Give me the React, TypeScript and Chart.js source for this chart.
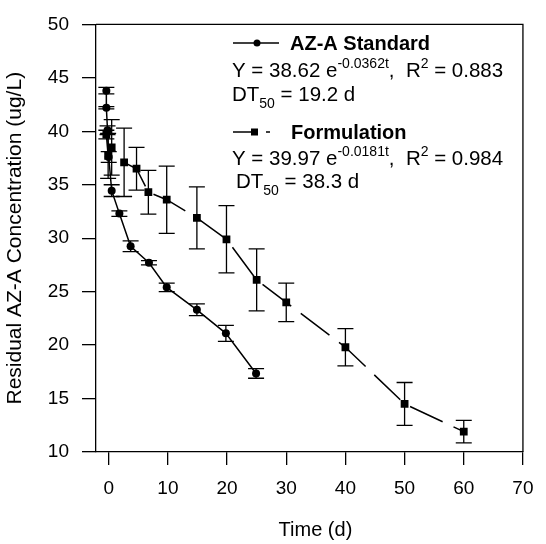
import React, { useEffect, useRef } from "react";
import { Chart, registerables } from "chart.js";

Chart.register(...registerables);

// ---- data ----
const stdTime = [-0.4, -0.4, -0.2, 0, 0.5, 1.8, 3.7, 6.8, 9.8, 14.9, 19.8, 24.9];
const stdConc = [43.8, 42.2, 40.1, 37.6, 34.45, 32.3, 29.25, 27.7, 25.4, 23.3, 21.1, 17.35];
const stdErr = [0.3, 0.1, 0.4, 0.5, 0.55, 0.25, 0.5, 0.2, 0.4, 0.55, 0.75, 0.45];

const formTime = [-0.4, -0.1, 0.5, 2.6, 4.7, 6.7, 9.8, 14.9, 19.9, 25, 30, 40, 50, 60];
const formConc = [39.7, 37.7, 38.5, 37.1, 36.5, 34.3, 33.6, 31.9, 29.9, 26.1, 24.0, 19.8, 14.5, 11.9];
const formErr = [0.4, 2.1, 2.6, 3.2, 2.0, 2.05, 3.15, 2.9, 3.15, 2.9, 1.8, 1.75, 2.0, 1.05];

const xTicks = [0, 10, 20, 30, 40, 50, 60, 70];
const yTicks = [10, 15, 20, 25, 30, 35, 40, 45, 50];

const xTitle = "Time (d)";
const yTitle = "Residual AZ-A Concentration (ug/L)";
const seriesNames = ["AZ-A Standard", "Formulation"];
const eqStd = ["Y = 38.62 e", "-0.0362t", ",  R", "2", " = 0.883"];
const eqForm = ["Y = 39.97 e", "-0.0181t", ",  R", "2", " = 0.984"];
const dtStd = ["DT", "50", " = 19.2 d"];
const dtForm = ["DT", "50", " = 38.3 d"];

const FONT = '"Liberation Sans", Arial, Helvetica, sans-serif';

type Part = [string, "n" | "sup" | "sub"];

function drawRich(ctx: CanvasRenderingContext2D, x: number, cy: number, parts: Part[], size: number) {
  const base = cy + size * 0.36;
  let cx = x;
  ctx.textBaseline = "alphabetic";
  ctx.textAlign = "left";
  for (const [txt, kind] of parts) {
    if (kind === "n") {
      ctx.font = `${size}px ${FONT}`;
      ctx.fillText(txt, cx, base);
    } else if (kind === "sup") {
      ctx.font = `${Math.round(size * 0.68)}px ${FONT}`;
      ctx.fillText(txt, cx, base - size * 0.45);
    } else {
      ctx.font = `${Math.round(size * 0.68)}px ${FONT}`;
      ctx.fillText(txt, cx, base + size * 0.3);
    }
    cx += ctx.measureText(txt).width;
  }
}

export default function App() {
  const ref = useRef<HTMLCanvasElement>(null);

  useEffect(() => {
    if (!ref.current) return;

    const errPlugin = {
      id: "errbars",
      afterDatasetsDraw(chart: any) {
        const { ctx, scales } = chart;
        const xs = scales.x;
        const ys = scales.y;
        const sets: [number[], number[], number[]][] = [
          [stdTime, stdConc, stdErr],
          [formTime, formConc, formErr],
        ];
        ctx.save();
        ctx.strokeStyle = "#000";
        ctx.lineWidth = 1.3;
        for (const [t, c, e] of sets) {
          t.forEach((tv, i) => {
            const px = xs.getPixelForValue(tv);
            const y1 = ys.getPixelForValue(c[i] + e[i]);
            const y2 = ys.getPixelForValue(c[i] - e[i]);
            const hw = 8;
            ctx.beginPath();
            ctx.moveTo(px, y1);
            ctx.lineTo(px, y2);
            ctx.moveTo(px - hw, y1);
            ctx.lineTo(px + hw, y1);
            ctx.moveTo(px - hw, y2);
            ctx.lineTo(px + hw, y2);
            ctx.stroke();
          });
        }
        ctx.restore();
      },
    };

    const boxPlugin = {
      id: "box",
      afterDraw(chart: any) {
        const { ctx, chartArea: a } = chart;
        ctx.save();
        ctx.strokeStyle = "#000";
        ctx.lineWidth = 1.3;
        ctx.beginPath();
        ctx.moveTo(a.left, a.top);
        ctx.lineTo(a.right, a.top);
        ctx.lineTo(a.right, a.bottom);
        ctx.stroke();
        // x-axis title
        ctx.fillStyle = "#000";
        ctx.font = `20px ${FONT}`;
        ctx.textAlign = "center";
        ctx.textBaseline = "middle";
        ctx.fillText(xTitle, (a.left + a.right) / 2 + 6, 530);
        ctx.restore();
      },
    };

    const legendPlugin = {
      id: "customLegend",
      afterDraw(chart: any) {
        const { ctx } = chart;
        ctx.save();
        ctx.fillStyle = "#000";
        ctx.strokeStyle = "#000";
        ctx.lineWidth = 1.5;
        // Standard entry
        ctx.beginPath();
        ctx.moveTo(233, 43);
        ctx.lineTo(279, 43);
        ctx.stroke();
        ctx.beginPath();
        ctx.arc(257, 43, 3.5, 0, Math.PI * 2);
        ctx.fill();
        ctx.font = `bold 20px ${FONT}`;
        ctx.textBaseline = "middle";
        ctx.textAlign = "left";
        ctx.fillText(seriesNames[0], 290, 44);
        drawRich(ctx, 232, 70, [[eqStd[0], "n"], [eqStd[1], "sup"], [eqStd[2], "n"], [eqStd[3], "sup"], [eqStd[4], "n"]], 20.5);
        drawRich(ctx, 232, 94, [[dtStd[0], "n"], [dtStd[1], "sub"], [dtStd[2], "n"]], 20.5);
        // Formulation entry
        ctx.beginPath();
        ctx.moveTo(233, 132);
        ctx.lineTo(258, 132);
        ctx.moveTo(266, 132);
        ctx.lineTo(270, 132);
        ctx.stroke();
        ctx.fillRect(251, 128.5, 7, 7);
        ctx.font = `bold 20px ${FONT}`;
        ctx.textBaseline = "middle";
        ctx.fillText(seriesNames[1], 291, 133);
        drawRich(ctx, 232, 158, [[eqForm[0], "n"], [eqForm[1], "sup"], [eqForm[2], "n"], [eqForm[3], "sup"], [eqForm[4], "n"]], 20.5);
        drawRich(ctx, 236, 181, [[dtForm[0], "n"], [dtForm[1], "sub"], [dtForm[2], "n"]], 20.5);
        ctx.restore();
      },
    };

    const chart = new Chart(ref.current, {
      type: "line",
      data: {
        datasets: [
          {
            label: seriesNames[0],
            data: stdTime.map((t, i) => ({ x: t, y: stdConc[i] })),
            borderColor: "#000",
            backgroundColor: "#000",
            borderWidth: 1.5,
            pointStyle: "circle",
            pointRadius: 4,
            pointBorderWidth: 0,
            tension: 0,
          },
          {
            label: seriesNames[1],
            data: formTime.map((t, i) => ({ x: t, y: formConc[i] })),
            borderColor: "#000",
            backgroundColor: "#000",
            borderWidth: 1.5,
            borderDash: [36, 12],
            pointStyle: "rect",
            pointRadius: 5.5,
            pointBorderWidth: 0,
            tension: 0,
          },
        ],
      },
      options: {
        responsive: false,
        animation: false,
        devicePixelRatio: 1,
        layout: { padding: { top: 19, right: 14, bottom: 0, left: 0 } },
        plugins: {
          legend: { display: false },
          tooltip: { enabled: false },
        },
        scales: {
          x: {
            type: "linear",
            min: -2.15,
            max: 70,
            afterBuildTicks(scale: any) {
              scale.ticks = xTicks.map((v) => ({ value: v }));
            },
            afterFit(scale: any) {
              scale.height = 92;
            },
            grid: { drawOnChartArea: false, drawTicks: true, tickLength: 13, color: "#000", lineWidth: 1.3 },
            border: { display: true, color: "#000", width: 1.3 },
            ticks: { color: "#000", font: { family: FONT, size: 19 }, padding: 12.5, maxRotation: 0, autoSkip: false },
            title: { display: false },
          },
          y: {
            type: "linear",
            min: 10,
            max: 50,
            afterBuildTicks(scale: any) {
              scale.ticks = yTicks.map((v) => ({ value: v }));
            },
            afterFit(scale: any) {
              scale.width = 96;
            },
            grid: { drawOnChartArea: false, drawTicks: true, tickLength: 14, color: "#000", lineWidth: 1.3 },
            border: { display: true, color: "#000", width: 1.3 },
            ticks: { color: "#000", font: { family: FONT, size: 19 }, padding: 13, autoSkip: false },
            title: {
              display: true,
              text: yTitle,
              color: "#000",
              font: { family: FONT, size: 21 },
              padding: { top: 2.5, bottom: 0 },
            },
          },
        },
      },
      plugins: [errPlugin, boxPlugin, legendPlugin],
    } as any);

    return () => chart.destroy();
  }, []);

  return (
    <div style={{ position: "absolute", left: 0, top: 0, width: 546, height: 544, background: "#fff" }}>
      <canvas ref={ref} width={546} height={544} style={{ width: 546, height: 544 }} />
    </div>
  );
}
